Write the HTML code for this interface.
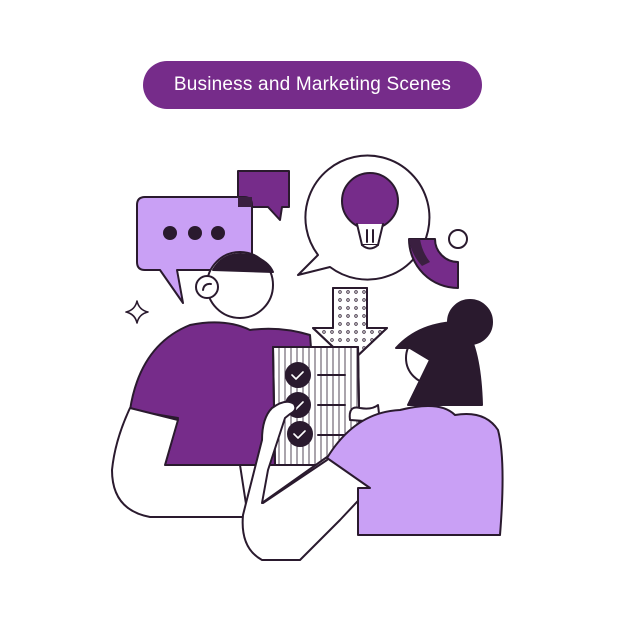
<!DOCTYPE html>
<html><head><style>
body{margin:0;background:#fff;width:626px;height:626px;overflow:hidden;position:relative;font-family:"Liberation Sans",sans-serif}
.pill{position:absolute;left:143px;top:61px;width:339px;height:48px;border-radius:24px;background:#762c8a;color:#fff;font-size:19px;line-height:48px;text-align:center;letter-spacing:0.2px}
svg{position:absolute;left:0;top:0}
</style></head><body>
<div class="pill">Business and Marketing Scenes</div>
<svg width="626" height="626" viewBox="0 0 626 626" fill="none" stroke="#2a1a2e" stroke-width="2" stroke-linejoin="round" stroke-linecap="round">
<defs>
<pattern id="dots" width="8" height="8" patternUnits="userSpaceOnUse"><circle cx="4" cy="4" r="1.3" fill="none" stroke="#2a1a2e" stroke-width="0.8"/></pattern>
<pattern id="stripes" width="6" height="6" patternUnits="userSpaceOnUse"><line x1="3" y1="0" x2="3" y2="6" stroke="#2a1a2e" stroke-width="0.8"/></pattern>
</defs>
<path d="M238 171 H289 V207 H282 L280 220 L268 207 H238 Z" fill="#762c8a"/>
<path d="M145 197 H244 Q252 197 252 205 V262 Q252 270 244 270 H177 L183 303 L160 270 H145 Q137 270 137 262 V205 Q137 197 145 197 Z" fill="#c9a0f5"/>
<path d="M238 197 H252 V207 H238 Z" fill="#3a1f40" stroke="none"/>
<circle cx="170" cy="233" r="7" fill="#2a1a2e" stroke="none"/>
<circle cx="195" cy="233" r="7" fill="#2a1a2e" stroke="none"/>
<circle cx="218" cy="233" r="7" fill="#2a1a2e" stroke="none"/>
<path d="M330 267 A62 62 0 1 0 318 255 L298 275 Z" fill="#fff"/>
<circle cx="370" cy="201" r="28" fill="#762c8a"/>
<path d="M357 224 L362 245 H378 L383 224" fill="#fff"/>
<path d="M362 245 Q370 252 378 245" fill="#fff"/>
<line x1="367" y1="230" x2="367" y2="242"/><line x1="373" y1="230" x2="373" y2="242"/>
<!-- quarter ring -->
<path d="M409 239 H435 A23 23 0 0 0 458 262 V288 A49 49 0 0 1 409 239 Z" fill="#762c8a"/>
<path d="M409 239 H420 Q422 252 430 262 L422 266 Q411 254 409 239 Z" fill="#3a1f40" stroke="none"/>
<circle cx="458" cy="239" r="9" fill="#fff"/>
<path d="M137 301 Q139 310 148 312 Q139 314 137 323 Q135 314 126 312 Q135 310 137 301 Z" fill="#fff" stroke-width="1.6"/>
<path d="M130 410 Q140 345 190 325 Q225 318 250 330 Q280 326 310 335 L320 465 H165 L178 418 Z" fill="#762c8a"/>
<path d="M130 408 L178 420 L165 465 H240 L248 517 H150 Q112 510 112 470 Q115 440 130 408 Z" fill="#fff"/>
<circle cx="240" cy="285" r="33" fill="#fff"/>
<path d="M213 270 Q225 250 250 255 Q268 260 273 272 Z" fill="#2a1a2e"/>
<circle cx="207" cy="287" r="11" fill="#fff"/>
<path d="M203 290 Q204 283 211 284"/>
<path d="M333 288 H367 V328 H387 L350 363 L313 328 H333 Z" fill="#fff"/>
<path d="M333 288 H367 V328 H387 L350 363 L313 328 H333 Z" fill="url(#dots)"/>
<path d="M273 347 H358 L360 465 H275 Z" fill="#fff"/>
<path d="M273 347 H358 L360 465 H275 Z" fill="url(#stripes)"/>
<circle cx="298" cy="375" r="12" fill="#2a1a2e"/>
<circle cx="298" cy="405" r="12" fill="#2a1a2e"/>
<circle cx="300" cy="434" r="12" fill="#2a1a2e"/>
<path d="M292 375 l4 4 l7 -7 M292 405 l4 4 l7 -7 M294 434 l4 4 l7 -7" stroke="#fff" stroke-width="1.6"/>
<line x1="318" y1="375" x2="345" y2="375"/><line x1="318" y1="405" x2="345" y2="405"/><line x1="318" y1="435" x2="345" y2="435"/>
<path d="M350 420 Q348 405 360 408 Q372 410 378 405 L380 422 Z" fill="#fff"/>
<!-- woman face + hair -->
<circle cx="432" cy="358" r="26" fill="#fff"/>
<circle cx="470" cy="322" r="22" fill="#2a1a2e"/>
<path d="M396 348 Q420 322 460 322 Q480 340 482 405 H408 L430 360 L410 348 Z" fill="#2a1a2e"/>
<!-- woman arm -->
<path d="M272 408 Q286 398 294 404 Q298 410 290 414 L285 418 L268 470 L262 503 L327 457 L370 488 L340 520 L300 560 H262 Q240 548 243 515 L262 440 Q262 418 272 408 Z" fill="#fff"/>
<line x1="263" y1="503" x2="327" y2="460"/>
<!-- woman shirt -->
<path d="M327 458 Q355 412 400 410 Q440 400 455 415 Q485 410 498 430 Q506 460 500 535 H358 V488 H370 Z" fill="#c9a0f5"/>
</svg>
</body></html>
